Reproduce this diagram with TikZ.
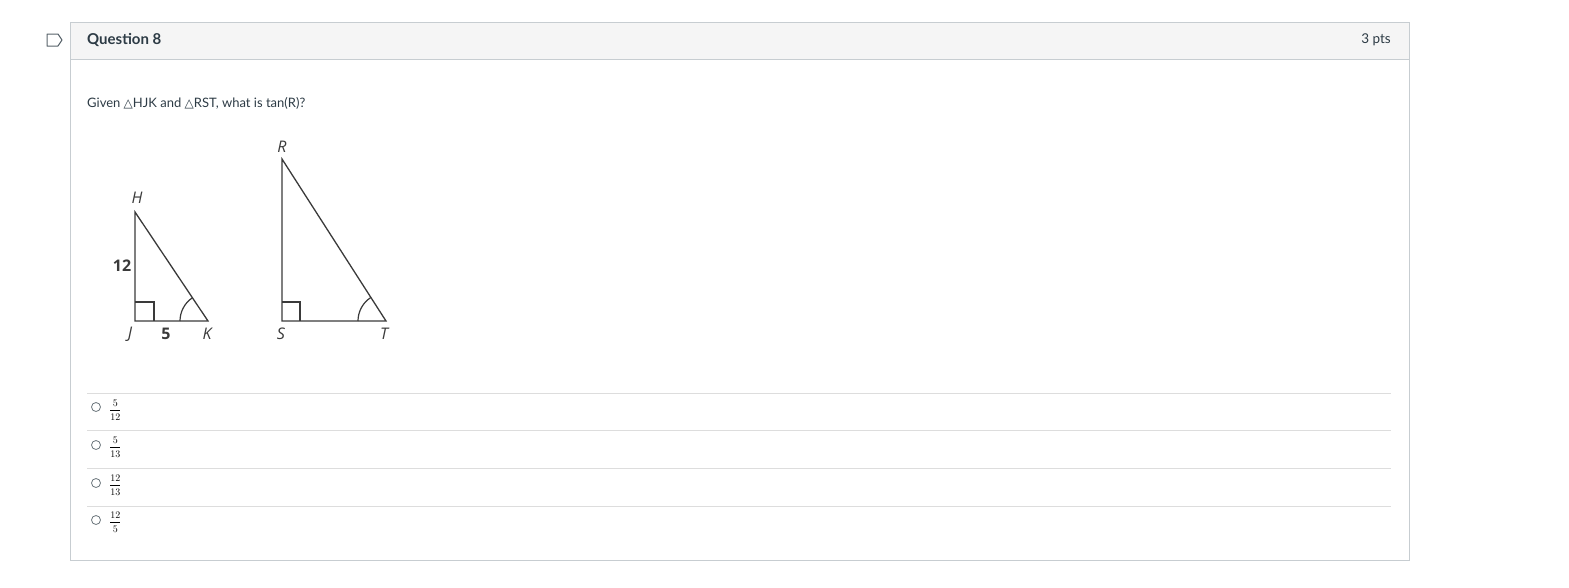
\documentclass[tikz,border=0pt]{standalone}
\usepackage{fontspec}
\setmainfont{Lato}
\newfontfamily\symfont{DejaVu Sans}
\newfontfamily\figfont{Open Sans}
\usetikzlibrary{calc}
\definecolor{txt}{HTML}{2D3B45}
\definecolor{hdr}{HTML}{F5F5F5}
\definecolor{bord}{HTML}{C7CDD1}
\definecolor{sep}{HTML}{DDDDDD}
\definecolor{fig}{HTML}{3A3A3A}
\begin{document}
\begin{tikzpicture}[x=1pt,y=-1pt,
  tri/.style={draw=fig,line width=1.3pt,line join=miter},
  angmark/.style={draw=fig,line width=1.2pt},
  lbl/.style={text=fig,font=\figfont\fontsize{16}{16}\selectfont\itshape,inner sep=0pt},
  num/.style={text=fig,font=\figfont\fontsize{16}{16}\selectfont\bfseries,inner sep=0pt},
  radio/.style={draw=txt!70,line width=0.8pt,circle,minimum size=9pt,inner sep=0pt},
  frac/.style={text=black,font=\fontspec{Latin Modern Roman}\fontsize{10}{10}\selectfont,inner sep=0pt,anchor=west},
  sepline/.style={draw=sep,line width=0.8pt}]
\useasboundingbox (0,0) rectangle (1569,587);
% outer box
\fill[hdr] (70,22) rectangle (1409,59);
\draw[bord,line width=1pt] (70,22) rectangle (1409,560);
\draw[bord,line width=1pt] (70,59) -- (1409,59);
% bookmark icon
\draw[txt!80,line width=1pt,line join=round] (47,34) -- (58,34) -- (62,40) -- (58,46) -- (47,46) -- cycle;
\node[anchor=west,text=txt,font=\fontsize{15}{15}\selectfont\bfseries,inner sep=0pt] (q) at (87,40) {Question 8};
\node[anchor=east,text=txt,font=\fontsize{13.5}{13.5}\selectfont,inner sep=0pt] (pts) at (1391,40) {3 pts};
\node[anchor=west,text=txt,font=\fontsize{13}{13}\selectfont,inner sep=0pt] (given) at (87,103) {Given {\symfont\fontsize{12}{12}\selectfont △}HJK and {\symfont\fontsize{12}{12}\selectfont △}RST, what is tan(R)?};
% triangle HJK
\coordinate (H) at (135,212);
\coordinate (J) at (135,321);
\coordinate (K) at (208,321);
\draw[tri] (H) -- (J) -- (K) -- cycle;
\draw[angmark] (135,302) -- (154,302) -- (154,321);
\draw[angmark] ($(K)+(-28,0)$) arc[start angle=180,end angle={180+56.3},radius=28];
\node[lbl] (Hl) at (137,198) {H};
\node[num] (n12) at (122,266) {12};
\node[lbl] (Jl) at (130,334) {J};
\node[num] (n5) at (166,334) {5};
\node[lbl] (Kl) at (207,334) {K};
% triangle RST
\coordinate (R) at (282,159);
\coordinate (S) at (282,321);
\coordinate (T) at (386,321);
\draw[tri] (R) -- (S) -- (T) -- cycle;
\draw[angmark] (282,302) -- (300,302) -- (300,321);
\draw[angmark] ($(T)+(-28,0)$) arc[start angle=180,end angle={180+57.3},radius=28];
\node[lbl] (Rl) at (282,147) {R};
\node[lbl] (Sl) at (281,334) {S};
\node[lbl] (Tl) at (384,334) {T};
% answers
\draw[sepline] (87,393) -- (1391,393);
\draw[sepline] (87,430) -- (1391,430);
\draw[sepline] (87,468) -- (1391,468);
\draw[sepline] (87,506) -- (1391,506);
\node[radio] (r1) at (96,407) {};
\node[radio] (r2) at (96,445) {};
\node[radio] (r3) at (96,483) {};
\node[radio] (r4) at (96,520) {};
\node[frac] (f1) at (109,410) {$\displaystyle\frac{5}{12}$};
\node[frac] (f2) at (109,447) {$\displaystyle\frac{5}{13}$};
\node[frac] (f3) at (109,485) {$\displaystyle\frac{12}{13}$};
\node[frac] (f4) at (109,522) {$\displaystyle\frac{12}{5}$};
\end{tikzpicture}
\end{document}
